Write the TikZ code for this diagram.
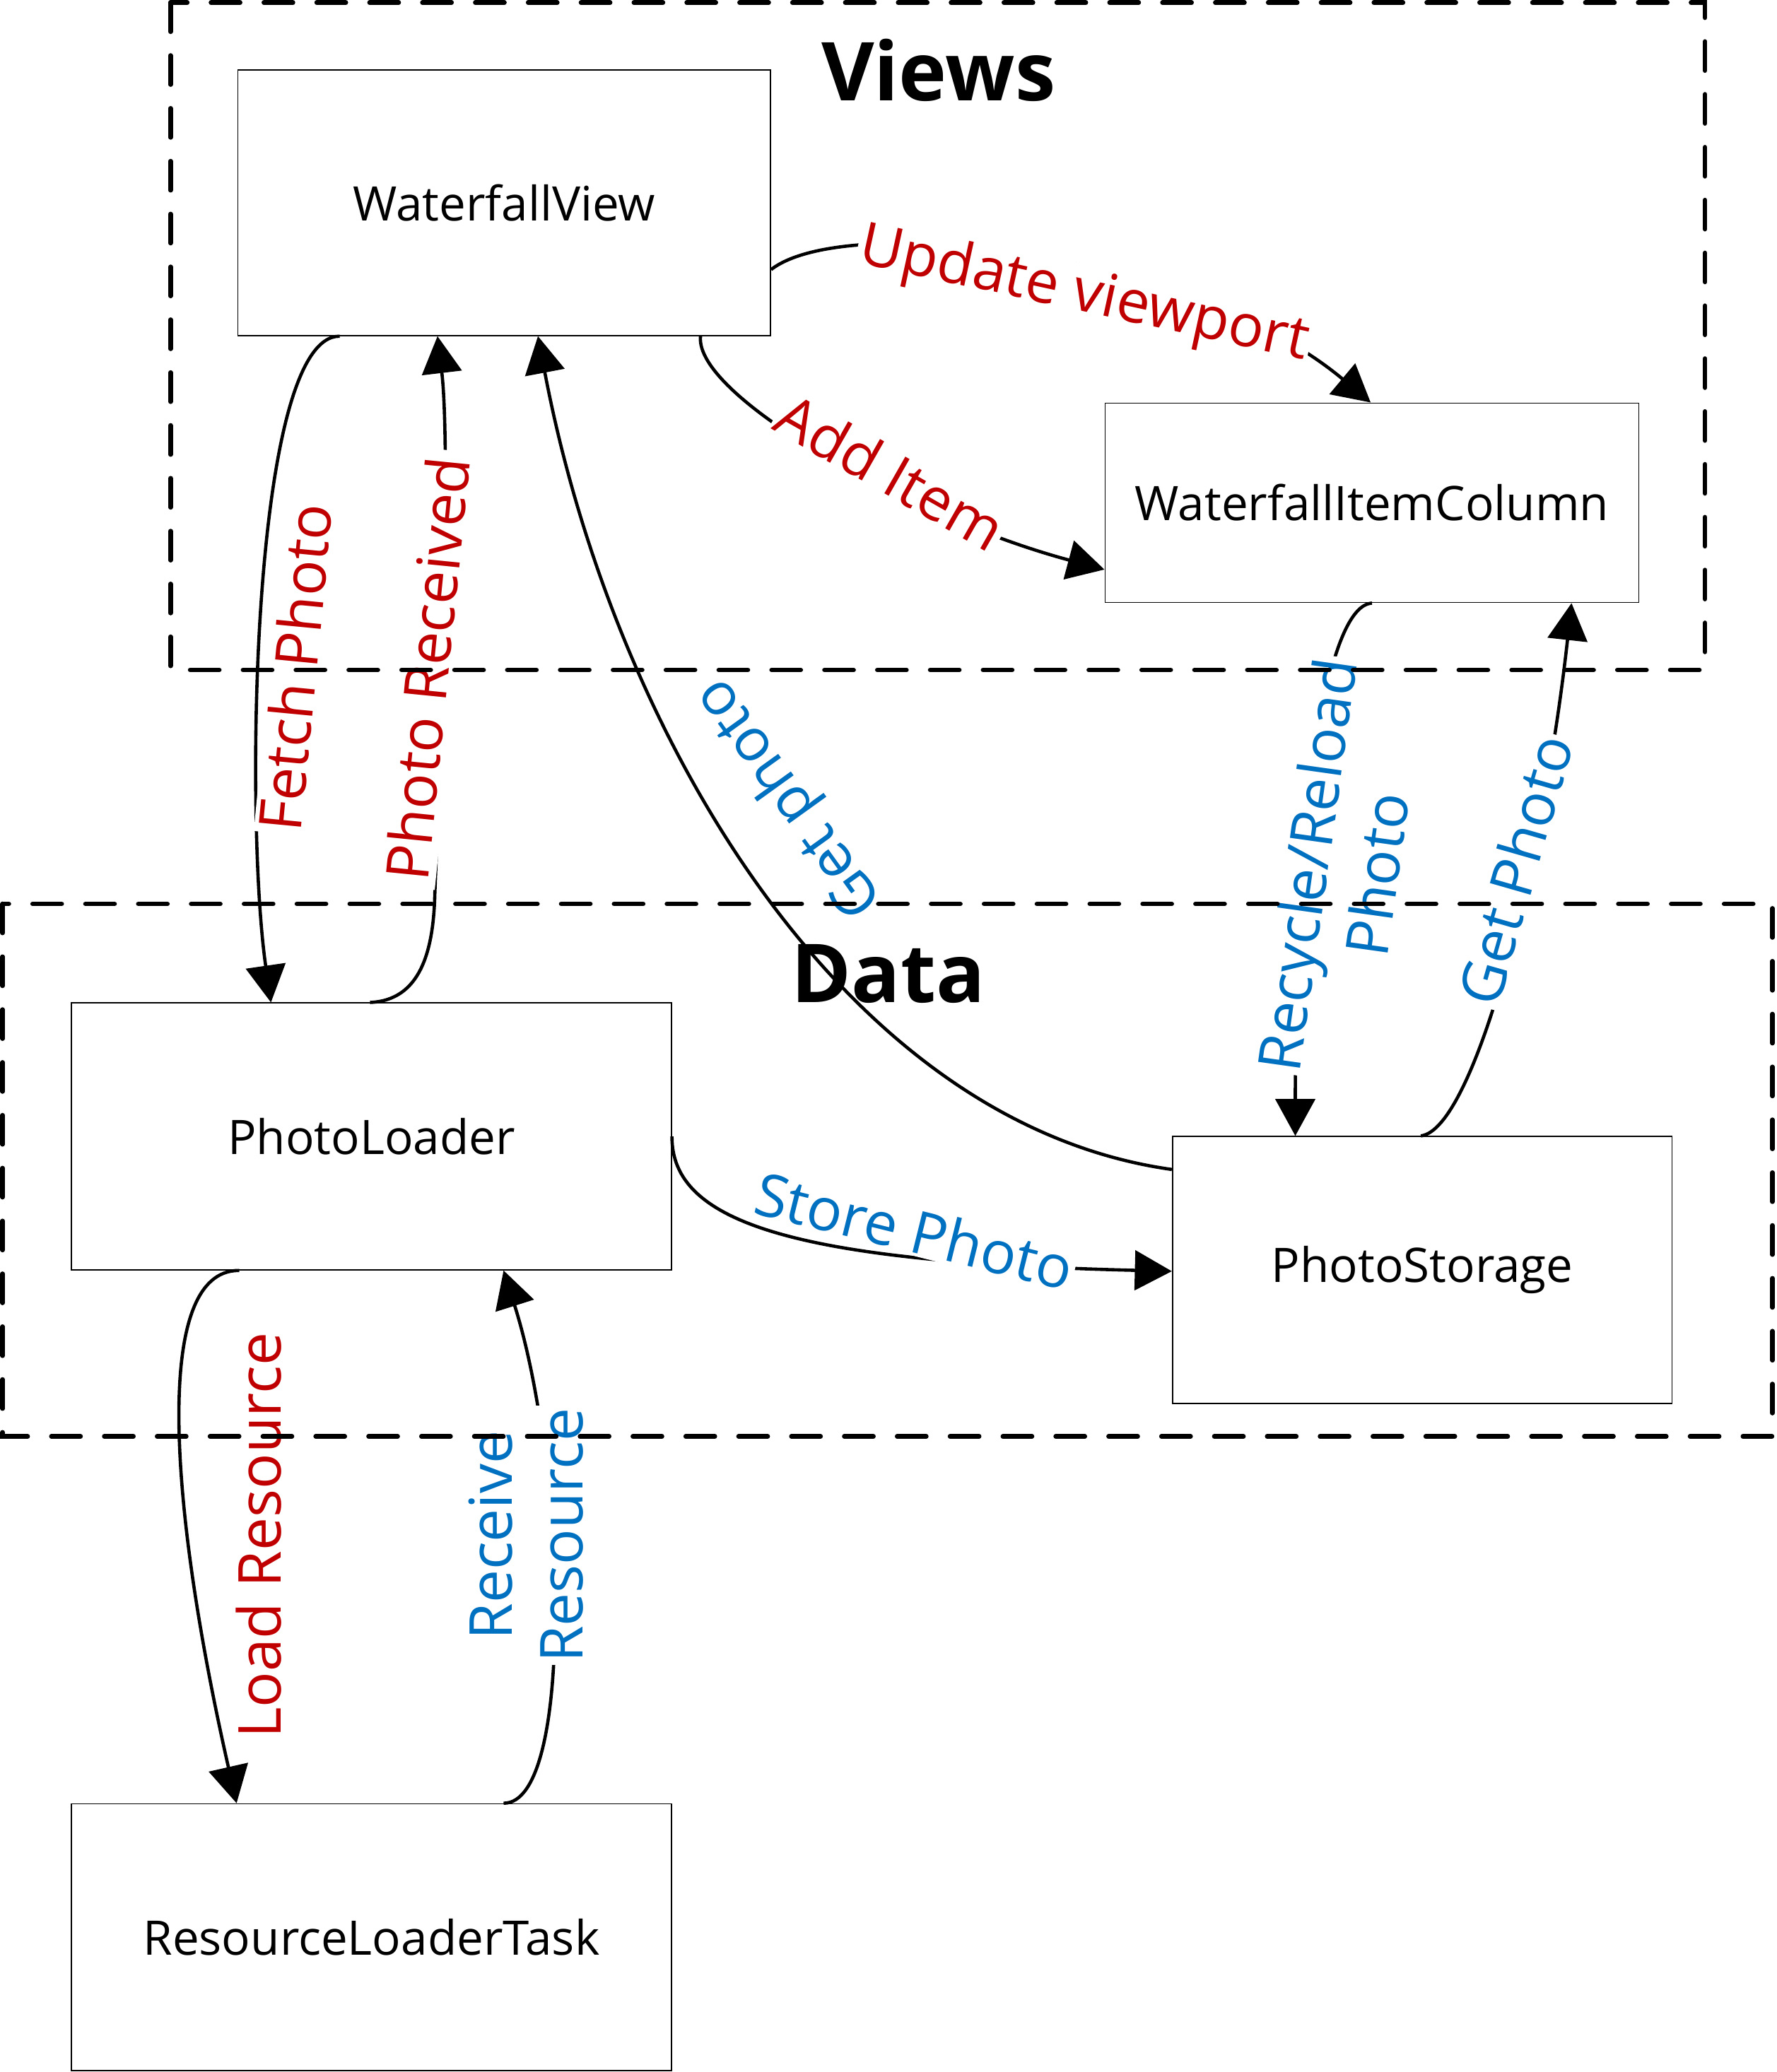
\documentclass[tikz,border=0pt]{standalone}
\usepackage{fontspec}
\setmainfont{Open Sans}
\usetikzlibrary{arrows.meta}
\definecolor{lblred}{RGB}{192,0,0}
\definecolor{lblblue}{RGB}{0,112,192}
\begin{document}
\begin{tikzpicture}[x=0.02cm,y=-0.02cm,
  box/.style={draw=black, line width=0.5pt, fill=white, inner sep=0pt, font=\fontsize{20.5}{24}\selectfont},
  conn/.style={line width=1.4pt, -{Triangle[length=0.56cm,width=0.6cm]}},
  lbl/.style={fill=white, inner sep=1pt, font=\fontsize{25.5}{30.4}\selectfont, align=center},
  redlbl/.style={lbl, text=lblred},
  bluelbl/.style={lbl, text=lblblue},
  grpbox/.style={line width=2pt, dash pattern=on 0.44cm off 0.36cm, line cap=round},
  grptitle/.style={font=\bfseries\fontsize{35}{40}\selectfont}]
\useasboundingbox (0,0) rectangle (1344,1568);

% group titles (under connectors)
\node[grptitle] (tviews) at (710,53) {Views};
\node[grptitle] (tdata) at (672,737) {Data};

% boxes
\node[box, minimum width=8.06cm, minimum height=4.02cm] (wv) at (381.5,153.5) {WaterfallView};
\node[box, minimum width=8.08cm, minimum height=3.02cm] (wic) at (1038,380.5) {WaterfallItemColumn};
\node[box, minimum width=9.08cm, minimum height=4.04cm] (pl) at (281,860) {PhotoLoader};
\node[box, minimum width=7.56cm, minimum height=4.04cm] (ps) at (1076,961) {PhotoStorage};
\node[box, minimum width=9.08cm, minimum height=4.04cm] (rlt) at (281,1466) {ResourceLoaderTask};

% connectors
\draw[conn] (257,0 |- wv.south) .. controls (190,254) and (185,620) .. (205,0 |- pl.north);
\draw[conn] (280,0 |- pl.north) .. controls (318,757) and (328,720) .. (329,676)
            .. controls (336,500) and (340,330) .. (331,0 |- wv.south);
\draw[conn] (wv.east |- 0,204) .. controls (640,160) and (900,190) .. (1037,0 |- wic.north);
\draw[conn] (530,0 |- wv.south) .. controls (525,300) and (690,392) .. (wic.west |- 0,431);
\draw[conn] (ps.west |- 0,885) .. controls (637,850) and (464,554) .. (407,0 |- wv.south);
\draw[conn] (1038,0 |- wic.south) .. controls (1005,458) and (980,600) .. (980,0 |- ps.north);
\draw[conn] (1075,0 |- ps.north) .. controls (1115,855) and (1167,656) .. (1189,0 |- wic.south);
\draw[conn] (pl.east |- 0,860) .. controls (508,925) and (600,955) .. (ps.west |- 0,962);
\draw[conn] (181,0 |- pl.south) .. controls (115,961) and (128,1140) .. (179,0 |- rlt.north);
\draw[conn] (381,0 |- rlt.north) .. controls (435,1365) and (428,1110) .. (381,0 |- pl.south);

% labels
\node[redlbl, rotate=84.5] (lfetch) at (223,505) {Fetch Photo};
\node[redlbl, rotate=84.3, inner sep=3pt] (lrecv) at (323,506) {Photo Received};
\node[redlbl, rotate=-12.3] (lupd) at (820,224) {Update viewport};
\node[redlbl, rotate=-29.7] (ladd) at (674,357) {Add Item};
\node[bluelbl, rotate=125.7] (lgetv) at (598,603) {Get photo};
\node[bluelbl, rotate=82] (lrec) at (1015,658) {Recycle/Reload\\Photo};
\node[bluelbl, rotate=74] (lgetc) at (1146,658) {Get Photo};
\node[bluelbl, rotate=-13.9] (lstore) at (692,931) {Store Photo};
\node[redlbl, rotate=90] (lload) at (196,1162) {Load Resource};
\node[bluelbl, rotate=90] (lrecres) at (398,1162) {Receive\\Resource};

% dashed groups (on top)
\draw[grpbox] (129,2) rectangle (1290,507);
\draw[grpbox] (2,684) rectangle (1341,1087);
\end{tikzpicture}
\end{document}
